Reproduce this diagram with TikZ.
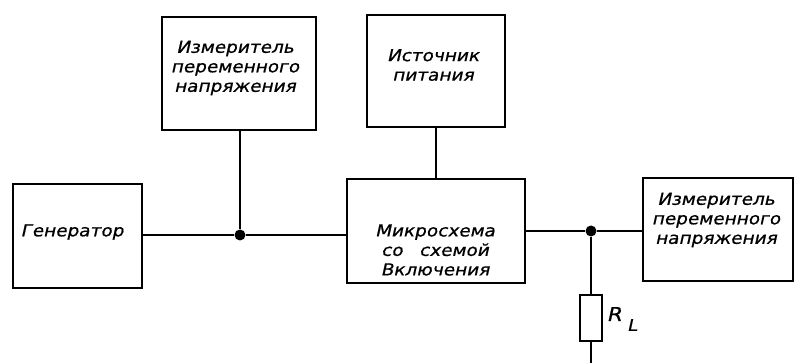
\documentclass[tikz,border=0pt]{standalone}
\usepackage{fontspec}
\newfontfamily\gost[FakeSlant=0.22,FakeStretch=1.12,FakeBold=0.8]{DejaVu Sans}
\begin{document}
\begin{tikzpicture}[x=1pt,y=-1pt,
  box/.style={draw,line width=2.8pt,inner sep=0pt},
  txt/.style={font=\gost\fontsize{16.5}{19.5}\selectfont,align=center,inner sep=0pt},
  wire/.style={line width=2.8pt},
  dot/.style={circle,fill,inner sep=0pt,minimum size=11pt}]
\useasboundingbox (0,0) rectangle (795,363);
% boxes
\node[box,minimum width=129pt,minimum height=104pt] (gen) at (77.5,236) {};
\node[box,minimum width=154pt,minimum height=113pt] (m1) at (239,73.5) {};
\node[box,minimum width=138pt,minimum height=112pt] (src) at (436,71) {};
\node[box,minimum width=178pt,minimum height=104pt] (mic) at (436,231) {};
\node[box,minimum width=150pt,minimum height=103pt] (m2) at (718,229.5) {};
% texts
\node[txt] (gent) at (72,232) {Генератор};
\node[txt] (m1t) at (235,68) {Измеритель\\переменного\\напряжения};
\node[txt] (srct) at (433,65) {Источник\\питания};
\node[txt] (mict) at (435,250) {Микросхема\\со\quad схемой\\Включения};
\node[txt] (m2t) at (716,220) {Измеритель\\переменного\\напряжения};
% junctions
\node[dot] (j1) at (240,235) {};
\node[dot] (j2) at (591,231) {};
% resistor
\node[draw,line width=2.8pt,minimum width=22pt,minimum height=46pt,inner sep=0pt] (rl) at (591,318) {};
\node[txt,font=\gost\fontsize{19}{19}\selectfont] (rlt) at (614,314) {R};
\node[txt,font=\gost\fontsize{16}{16}\selectfont] (rls) at (632,325) {L};
\coordinate (gnd) at (591,363);
% wires
\draw[wire] (gen.east |- j1) -- (j1) -- (mic.west |- j1);
\draw[wire] (m1.south -| j1) -- (j1);
\draw[wire] (src.south) -- (mic.north);
\draw[wire] (mic.east |- j2) -- (j2) -- (m2.west |- j2);
\draw[wire] (j2) -- (rl.north);
\draw[wire] (rl.south) -- (gnd);
\end{tikzpicture}
\end{document}
